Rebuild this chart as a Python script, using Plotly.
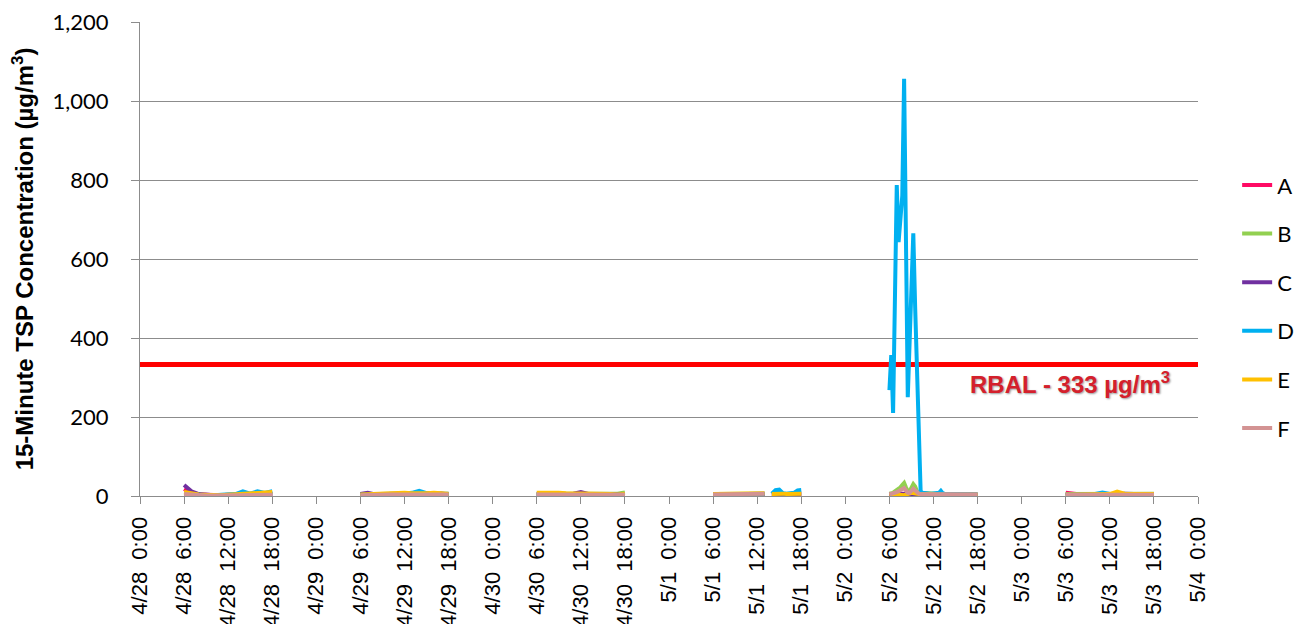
import pandas as pd
import plotly.graph_objects as go

# ---------------- data ----------------
day_starts = ["2013-04-28", "2013-04-29", "2013-04-30", "2013-05-01", "2013-05-02", "2013-05-03"]
series_names = ["A", "B", "C", "D", "E", "F"]
series_colors = ["#FF0A64", "#92D050", "#7030A0", "#00B0F0", "#FFC000", "#D39393"]

# each day: readings evenly spaced from 6:00 to 18:00 (hourly, 30-min or 15-min)
A = [
    [18, 8, 4, 3, 2, 2, 3, 3, 4, 5, 4, 5, 6],
    [3, 4, 5, 4, 5, 6, 6, 5, 6, 7, 6, 5, 4],
    [5, 5, 6, 5, 5, 6, 5, 4, 4, 3, 4, 5, 6],
    [4, 4, 3, 3, 4, 4, 4, 5, 5, 5, 4, 4, 5, 5, 5, None, 4, 4, 5, 5, 5, 5, 5, 5, 5],
    [5, 6, 6, 5, 5, 4, 4, 5, 4, 4, 4, 3, 3],
    [8, 5, 4, 4, 4, 4, 4, 4, 4, 4, 4, 4, 4],
]
B = [
    [8, 5, 3, 2, 2, 2, 3, 4, 4, 5, 6, 5, 6],
    [4, 5, 4, 5, 6, 5, 6, 7, 6, 5, 6, 5, 5],
    [6, 6, 7, 6, 6, 5, 6, 5, 5, 5, 6, 6, 9],
    [5, 5, 4, 4, 5, 5, 5, 6, 6, 5, 5, 6, 6, 6, 6, None, 5, 5, 6, 6, 6, 6, 6, 6, 6],
    [6, 7, 8, 12, 15, 18, 22, 28, 33, 22, 12, 12, 20, 30, 24, 12, 8, 8, 7, 7,
     7, 6, 6, 6, 6, 6, 6, 5, 5, 5, 5, 5, 5, 5, 5, 5, 5, 5, 5, 5,
     5, 5, 4, 4, 4, 4, 4, 4, 4],
    [5, 5, 5, 5, 5, 5, 5, 5, 5, 6, 6, 6, 6],
]
C = [
    [28, 12, 5, 3, 2, 2, 2, 3, 3, 3, 3, 3, 4],
    [5, 8, 4, 3, 4, 5, 4, 6, 5, 4, 5, 6, 4],
    [4, 5, 6, 5, 5, 6, 10, 5, 4, 4, 3, 3, 4],
    [3, 3, 3, 3, 4, 4, 3, 4, 4, 4, 4, 4, 4, 4, 4, None, 3, 3, 3, 3, 4, 4, 4, 4, 4],
    [4, 5, 5, 4, 4, 4, 3, 3, 3, 3, 3, 3, 3],
    [3, 3, 4, 4, 4, 4, 4, 4, 6, 5, 4, 4, 4],
]
D = [
    [6, 4, 3, 2, 2, 3, 3, 5, 12, 6, 12, 8, 12],
    [3, 4, 5, 4, 5, 6, 6, 8, 13, 7, 6, 7, 6],
    [4, 5, 5, 6, 5, 5, 6, 5, 4, 4, 3, 4, 3],
    [4, 4, 4, 5, 5, 5, 5, 5, 6, 6, 6, 6, 6, 6, 6, None, 6, 15, 16, 7, 6, 7, 8, 14, 15],
    [268, 357, 210, 500, 787, 643, 700, 760, 1056, 620, 250, 390, 530, 665, 480, 300, 120, 12, 8, 7,
     7, 6, 6, 6, 6, 6, 7, 8, 13, 7, 6, 6, 5, 5, 5, 5, 5, 5, 5, 5,
     5, 5, 4, 4, 4, 4, 4, 4, 4],
    [4, 4, 4, 4, 5, 9, 5, 5, 4, 4, 4, 4, 4],
]
E = [
    [10, 6, 4, 3, 2, 2, 3, 4, 5, 6, 7, 8, 10],
    [4, 5, 6, 5, 6, 7, 8, 7, 6, 7, 8, 7, 6],
    [8, 8, 10, 8, 7, 7, 6, 5, 5, 5, 5, 4, 5],
    [5, 5, 5, 5, 5, 6, 6, 6, 6, 6, 6, 7, 7, 7, 7, None, 5, 6, 6, 6, 5, 5, 6, 6, 6],
    [3, 4, 2, 8, 5, 4, 4, 4, 3, 3, 3, 3, 3],
    [4, 4, 5, 5, 5, 5, 5, 11, 6, 5, 5, 5, 5],
]
F = [
    [5, 3, 1, 1, 1, 1, 1, 2, 2, 3, 3, 3, 3],
    [2, 3, 3, 3, 4, 4, 4, 4, 5, 4, 4, 4, 4],
    [4, 4, 5, 5, 4, 4, 4, 3, 3, 3, 3, 3, 3],
    [4, 4, 4, 4, 4, 4, 5, 5, 5, 5, 5, 6, 6, 6, 6, None, None, None, None, None, None, None, None, None, None],
    [4, 5, 6, 8, 10, 12, 15, 18, 20, 14, 8, 8, 12, 18, 14, 8, 6, 5, 5, 5,
     5, 5, 5, 5, 5, 5, 5, 5, 5, 5, 5, 5, 5, 5, 4, 4, 4, 4, 4, 4,
     4, 4, 4, 4, 4, 4, 4, 4, 4],
    [3, 3, 3, 3, 3, 3, 3, 3, 3, 3, 3, 3, 3],
]
series_values = [A, B, C, D, E, F]

rbal_value = 333
rbal_label = "RBAL - 333 µg/m<sup>3</sup>"
axis_start, axis_end = "2013-04-28 00:00", "2013-05-04 00:00"
tick_times = pd.date_range(axis_start, axis_end, freq="6h")
tick_labels = [f"{t.month}/{t.day}\u00a0\u00a0{t.hour}:00" for t in tick_times]
y_ticks = [0, 200, 400, 600, 800, 1000, 1200]
y_tick_labels = ["0", "200", "400", "600", "800", "1,000", "1,200"]


def build_xy(days):
    xs, ys = [], []
    for d0, vals in zip(day_starts, days):
        start = pd.Timestamp(d0) + pd.Timedelta(hours=6)
        step = pd.Timedelta(hours=12) / (len(vals) - 1)
        for i, v in enumerate(vals):
            xs.append(start + i * step)
            ys.append(v)
        xs.append(start + pd.Timedelta(hours=13))
        ys.append(None)
    return xs, ys


fig = go.Figure()

# RBAL threshold line
fig.add_trace(go.Scatter(
    x=[pd.Timestamp(axis_start), pd.Timestamp(axis_end)], y=[rbal_value, rbal_value],
    mode="lines", line=dict(color="#FF0000", width=5), showlegend=False, hoverinfo="skip"))

for name, color, days in zip(series_names, series_colors, series_values):
    xs, ys = build_xy(days)
    fig.add_trace(go.Scatter(
        x=xs, y=ys, mode="lines", name=name, legendgroup=name,
        line=dict(color=color, width=4), connectgaps=False))

fig.add_annotation(
    x=0.879, y=0.238, xref="paper", yref="paper", text=rbal_label, showarrow=False,
    font=dict(family="Liberation Sans, Arial", size=24, color="#D4202C",
              weight="bold", shadow="1px 1px 2px #9a9a9a"),
    xanchor="center", yanchor="middle")

# the page body adds an 8px offset, so margins are shifted to compensate
fig.update_layout(
    width=1302, height=624,
    margin=dict(l=132, r=112, t=14, b=136, autoexpand=False),
    paper_bgcolor="white", plot_bgcolor="white",
    showlegend=True,
    legend=dict(x=1.037, xanchor="left", y=0.70, yanchor="top",
                font=dict(family="Lato, Carlito, sans-serif", size=22, color="#000000"),
                tracegroupgap=17, bgcolor="rgba(0,0,0,0)", itemwidth=30),
)
fig.update_xaxes(
    type="date", range=[axis_start, axis_end],
    tickmode="array", tickvals=list(tick_times), ticktext=tick_labels,
    tickangle=-90, ticks="outside", ticklen=7, tickcolor="#8C8C8C", tickwidth=1,
    showline=True, linecolor="#8C8C8C", linewidth=1, showgrid=False, zeroline=False,
    tickfont=dict(family="Liberation Sans, Arial", size=22, color="#000000"),
    automargin=False, ticklabelstandoff=4, ticklabeloverflow="allow")
fig.update_yaxes(
    range=[0, 1200], tickmode="array", tickvals=y_ticks, ticktext=y_tick_labels,
    ticks="outside", ticklen=8, tickcolor="#8C8C8C", tickwidth=1,
    showline=True, linecolor="#8C8C8C", linewidth=1,
    showgrid=True, gridcolor="#8C8C8C", gridwidth=1, zeroline=False,
    tickfont=dict(family="Lato, Carlito, sans-serif", size=22, color="#000000"),
    ticklabelstandoff=18, automargin=False, ticklabeloverflow="allow",
    title=dict(text="15-Minute TSP Concentration (µg/m<sup>3</sup>)",
               font=dict(family="Liberation Sans, Arial", size=24, color="#000000", weight="bold"),
               standoff=14))

fig.write_html("out.html")
